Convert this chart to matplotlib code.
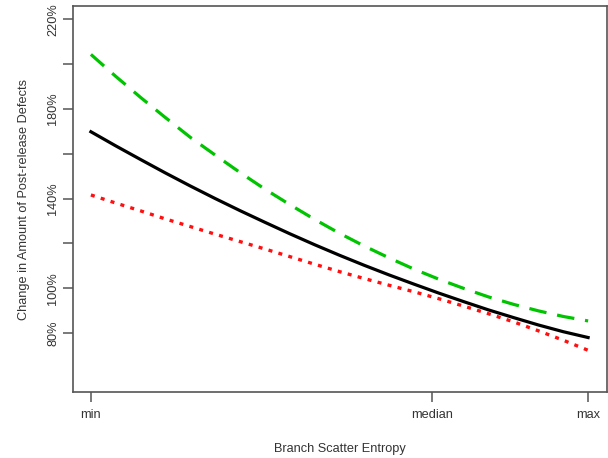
import matplotlib
matplotlib.use("Agg")
import matplotlib.pyplot as plt

# Data (x as fraction from min to max of Branch Scatter Entropy)
x_pos = [0.0, 0.05, 0.1, 0.15, 0.2, 0.25, 0.3, 0.35, 0.4, 0.45, 0.5,
         0.55, 0.6, 0.65, 0.7, 0.75, 0.8, 0.85, 0.9, 0.95, 1.0]
green_vals = [204.3, 194.5, 185.1, 176.1, 167.3, 159.4, 151.6, 144.2, 137.3, 130.7, 124.5,
              118.8, 113.5, 108.5, 104.0, 99.9, 96.1, 92.8, 89.9, 87.4, 85.4]
black_vals = [169.8, 163.5, 157.4, 151.4, 145.6, 140.0, 134.6, 129.4, 124.3, 119.4, 114.7,
              110.2, 105.9, 101.8, 97.8, 94.0, 90.3, 86.9, 83.6, 80.6, 78.0]
red_vals = [141.6, 138.0, 134.5, 130.9, 127.5, 124.1, 120.8, 117.5, 114.1, 110.7, 107.4,
            104.3, 101.3, 98.4, 95.3, 92.0, 88.6, 85.0, 81.0, 76.8, 72.3]

x_tick_pos = [0.0, 0.686, 1.0]
x_tick_labels = ["min", "median", "max"]
y_ticks = [80, 100, 120, 140, 160, 180, 200, 220]
y_tick_labels = ["80%", "100%", "", "140%", "", "180%", "", "220%"]

plt.rcParams['font.family'] = ['Liberation Sans', 'DejaVu Sans']

fig = plt.figure(figsize=(6.08, 4.58), dpi=100)
ax = fig.add_axes([73/608, 1 - 392/458, (607 - 73)/608, (392 - 6)/458])

ax.plot(x_pos, green_vals, color='#00c400', lw=2.3, dashes=(5.5, 3.4))
ax.plot(x_pos, black_vals, color='black', lw=2.3)
ax.plot(x_pos, red_vals, color='#ff1010', lw=2.4, dashes=(1.2, 1.9))

ax.set_xlim(-0.036, 1.038)
ax.set_ylim(53.7, 225.9)

ax.set_xticks(x_tick_pos)
ax.set_xticklabels(x_tick_labels)
ax.set_yticks(y_ticks)
ax.set_yticklabels(y_tick_labels, rotation=90, va='center', ha='right')

text_color = '#333333'
spine_color = '#555555'
for s in ax.spines.values():
    s.set_color(spine_color)
    s.set_linewidth(1.2)
ax.tick_params(axis='both', colors=spine_color, labelcolor=text_color, labelsize=9.2, length=7, width=1.1)
ax.tick_params(axis='y', pad=3)
ax.tick_params(axis='x', pad=5)

ax.set_xlabel("Branch Scatter Entropy", fontsize=9.2, color=text_color, labelpad=16)
ax.set_ylabel("Change in Amount of Post-release Defects", fontsize=9.2, color=text_color, labelpad=12)

fig.savefig("out.png", dpi=100)
